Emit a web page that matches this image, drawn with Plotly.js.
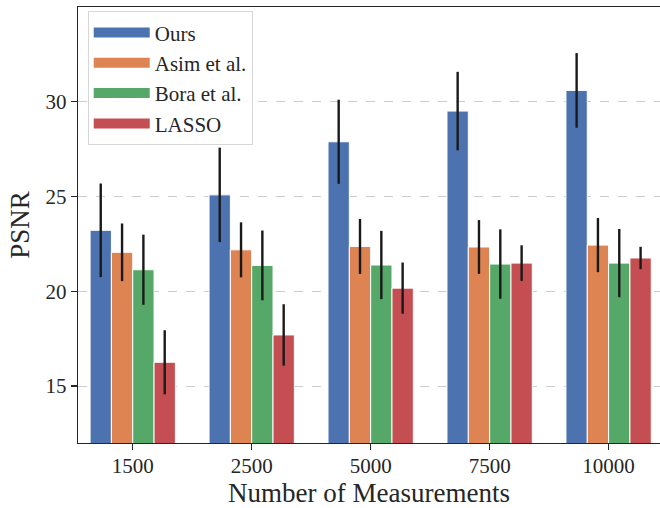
<!DOCTYPE html>
<html>
<head>
<meta charset="utf-8">
<script src="https://cdn.plot.ly/plotly-3.0.1.min.js"></script>
<style>html,body{margin:0;padding:0;background:#fff;overflow:hidden;}</style>
</head>
<body>
<div id="chart" style="width:660px;height:508px;"></div>
<script>
// Data
const categories = ["1500", "2500", "5000", "7500", "10000"];
const seriesNames = ["Ours", "Asim et al.", "Bora et al.", "LASSO"];
const oursMean  = [23.22, 25.09, 27.89, 29.51, 30.60];
const oursErr   = [2.47, 2.49, 2.22, 2.07, 1.97];
const asimMean  = [22.06, 22.19, 22.37, 22.34, 22.44];
const asimErr   = [1.52, 1.45, 1.45, 1.42, 1.43];
const boraMean  = [21.14, 21.37, 21.39, 21.44, 21.49];
const boraErr   = [1.85, 1.84, 1.80, 1.83, 1.80];
const lassoMean = [16.26, 17.70, 20.17, 21.49, 21.76];
const lassoErr  = [1.69, 1.62, 1.35, 0.94, 0.59];
const yTicks = [15, 20, 25, 30];

const colors = ["#4C72B0", "#DD8452", "#55A868", "#C44E52"];
const means = [oursMean, asimMean, boraMean, lassoMean];
const errs = [oursErr, asimErr, boraErr, lassoErr];

const FONT = "Liberation Serif, Times New Roman, serif";
const traces = [];
means.forEach((m, i) => {
  traces.push({
    type: "bar",
    x: categories,
    y: m,
    name: seriesNames[i],
    showlegend: false,
    marker: {color: colors[i], line: {color: "#ffffff", width: 1}},
    error_y: {type: "data", array: errs[i], visible: true, color: "#1a1a1a", thickness: 2.4, width: 0}
  });
});
// legend entries (wide swatches like the reference)
seriesNames.forEach((n, i) => {
  traces.push({
    type: "scatter", mode: "lines", x: [null], y: [null], name: n,
    line: {color: colors[i], width: 13}, hoverinfo: "skip"
  });
});

const layout = {
  width: 660, height: 508,
  margin: {l: 78, r: 0, t: 7, b: 65},
  paper_bgcolor: "#ffffff", plot_bgcolor: "#ffffff",
  barmode: "group", bargap: 0.283, bargroupgap: 0,
  font: {family: FONT, color: "#262626", size: 21},
  xaxis: {
    type: "category", categoryorder: "array", categoryarray: categories,
    range: [-0.46, 4.432],
    showline: true, linecolor: "#262626", linewidth: 1.3, mirror: true,
    ticks: "outside", ticklen: 6, tickwidth: 1.3, tickcolor: "#262626",
    ticklabelstandoff: -3,
    showgrid: false,
    tickfont: {family: FONT, size: 21, color: "#262626"},
    title: {text: "Number of Measurements", font: {family: FONT, size: 27, color: "#262626"}, standoff: 12}
  },
  yaxis: {
    range: [12, 35], tickvals: yTicks,
    showline: true, linecolor: "#262626", linewidth: 1.3,
    ticks: "outside", ticklen: 6, tickwidth: 1.3, tickcolor: "#262626",
    showgrid: true, gridcolor: "#cccccc", gridwidth: 1.2, griddash: "dash",
    zeroline: false,
    tickfont: {family: FONT, size: 21, color: "#262626"},
    title: {text: "PSNR", font: {family: FONT, size: 27, color: "#262626"}, standoff: 8}
  },
  showlegend: true,
  legend: {
    x: 0.0167, y: 0.99, xanchor: "left", yanchor: "top",
    bgcolor: "rgba(255,255,255,0.85)", bordercolor: "#d6d6d6", borderwidth: 1,
    font: {family: FONT, size: 21, color: "#262626"},
    tracegroupgap: 0, itemwidth: 56
  }
};

Plotly.newPlot("chart", traces, layout, {displayModeBar: false, staticPlot: true});
</script>
</body>
</html>
